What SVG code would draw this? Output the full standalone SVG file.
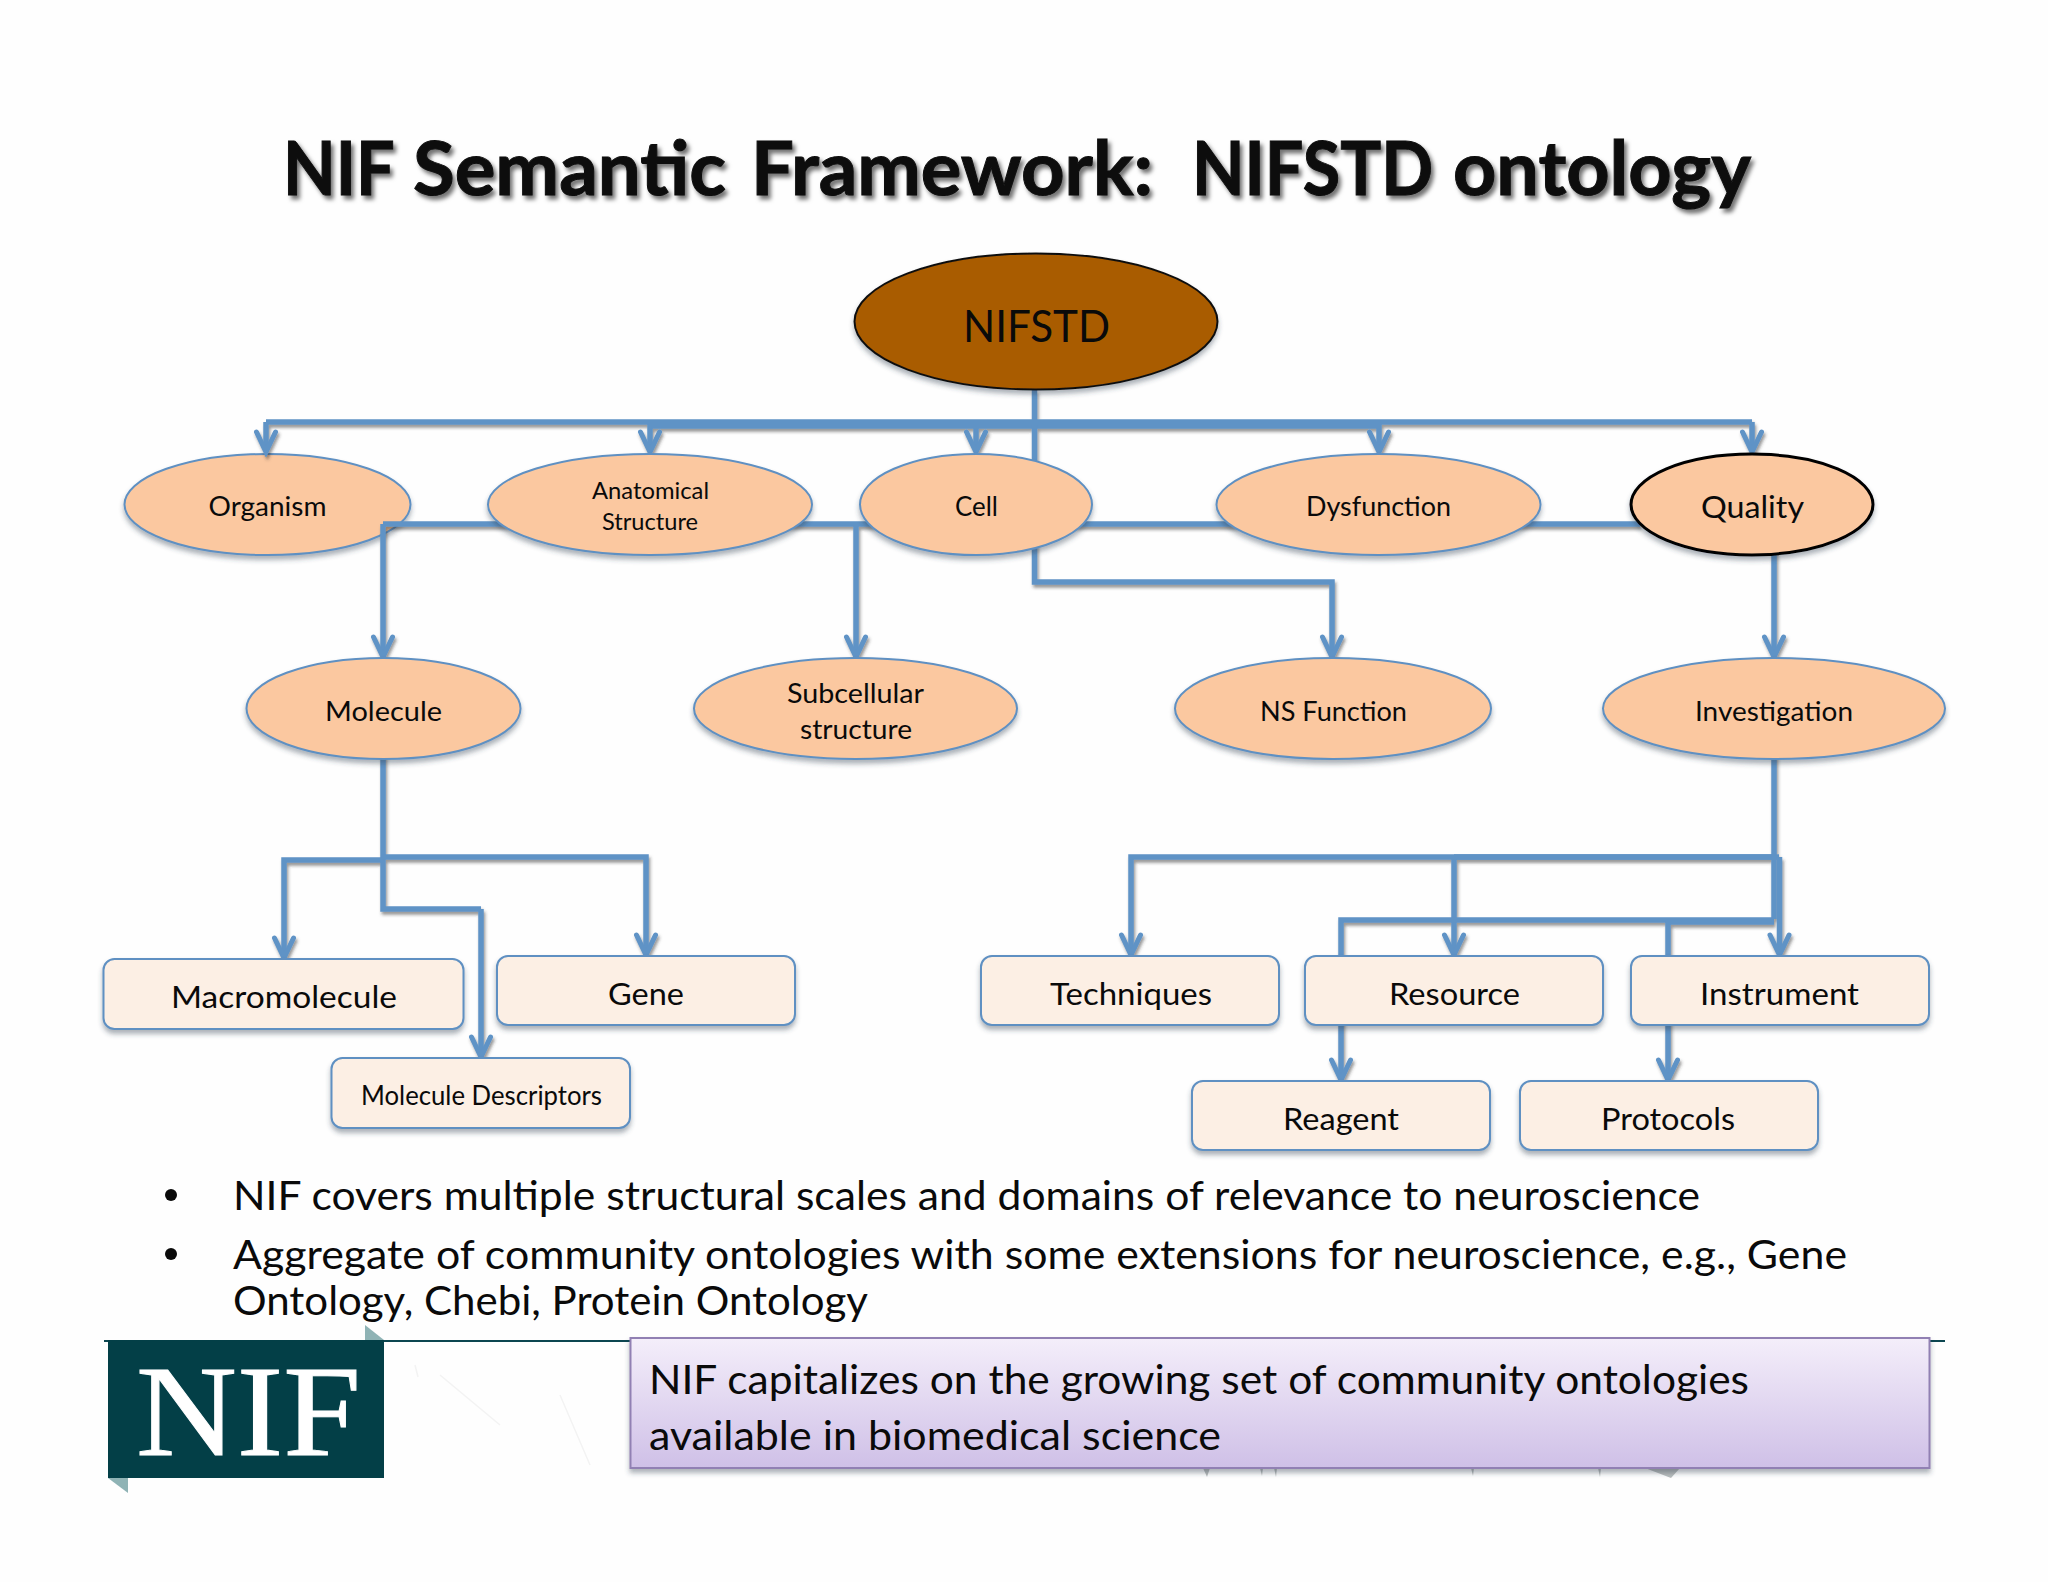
<svg xmlns="http://www.w3.org/2000/svg" width="2048" height="1582" viewBox="0 0 2048 1582">
<style>
text{font-family:Lato,"Liberation Sans",sans-serif;fill:#0a0a0a}
.e{fill:#fbc8a0;stroke:#5f90c2;stroke-width:2;filter:url(#sh)}
.b{fill:#fcefe4;stroke:#5f90c2;stroke-width:2;filter:url(#sh)}
.c{fill:none;stroke:#5f93c6;stroke-width:5.5;stroke-linejoin:miter}
.h{marker-end:url(#arrd)}
.f26{font-size:27px}.f23{font-size:24px}.f25{font-size:26px}.f30{font-size:31px}.f38{font-size:40px}
</style>
<defs>
<filter id="sh" x="-10%" y="-15%" width="120%" height="135%"><feDropShadow dx="0" dy="4" stdDeviation="2.5" flood-color="#33404f" flood-opacity="0.4"/></filter>
<filter id="ls" x="-5%" y="-5%" width="110%" height="110%"><feDropShadow dx="1.5" dy="3" stdDeviation="1.5" flood-color="#333" flood-opacity="0.5"/></filter>
<filter id="ts" x="-5%" y="-20%" width="110%" height="140%"><feDropShadow dx="3" dy="4" stdDeviation="2" flood-color="#000" flood-opacity="0.55"/></filter>
<marker id="arrd" markerUnits="userSpaceOnUse" markerWidth="32" markerHeight="32" refX="25" refY="16" orient="auto" viewBox="0 0 32 32">
<path d="M7 6.500 L27 16 L7 25.500" fill="none" stroke="#5f93c6" stroke-width="5" stroke-linecap="round" stroke-linejoin="miter"/>
</marker>
<linearGradient id="pg" x1="0" y1="0" x2="0" y2="1"><stop offset="0" stop-color="#f4eefa"/><stop offset="1" stop-color="#cfc0e7"/></linearGradient>
</defs>
<rect width="2048" height="1582" fill="#fefefe"/>
<text id="title" y="195" font-size="74" font-weight="700" stroke="#0a0a0a" stroke-width="1" filter="url(#ts)"><tspan x="283" textLength="110" lengthAdjust="spacingAndGlyphs">NIF</tspan> <tspan x="413" textLength="313" lengthAdjust="spacingAndGlyphs">Semantic</tspan> <tspan x="751" textLength="402" lengthAdjust="spacingAndGlyphs">Framework:</tspan>  <tspan x="1192" textLength="241" lengthAdjust="spacingAndGlyphs">NIFSTD</tspan> <tspan x="1453" textLength="298" lengthAdjust="spacingAndGlyphs">ontology</tspan></text>

<g id="n-organism"><ellipse class="e" cx="267.500" cy="504.500" rx="143" ry="50.500"/><text class="f26" x="208.500" y="516" textLength="118" lengthAdjust="spacingAndGlyphs">Organism</text></g>

<g id="connectors" filter="url(#ls)">
<path class="c" d="M650 426H1379"/>
<path class="c" d="M1034.500 390V470"/>
<path class="c" d="M266 422H1752"/>
<path class="c h" d="M266 422V450"/>
<path class="c h" d="M650 424V450"/>
<path class="c h" d="M976 426V450"/>
<path class="c h" d="M1379 424V450"/>
<path class="c h" d="M1752 422V450"/>
<path class="c" d="M1640 524H383"/>
<path class="c h" d="M383 524V655"/>
<path class="c h" d="M856 524V655"/>
<path class="c h" d="M1034.500 540V582H1332V655"/>
<path class="c h" d="M1774 550V655"/>
<path class="c" d="M383 755V909H481"/>
<path class="c h" d="M481 909V1055"/>
<path class="c h" d="M383 860H284V956"/>
<path class="c h" d="M383 857H646V953"/>
<path class="c" d="M1774 755V919"/>
<path class="c h" d="M1774 857H1131V953"/>
<path class="c" d="M1779 857H1454"/>
<path class="c h" d="M1454 857V953"/>
<path class="c h" d="M1779.500 857V953"/>
<path class="c" d="M1774 920H1341V1000"/>
<path class="c h" d="M1341 1000V1078"/>
<path class="c" d="M1774 922H1668V1000"/>
<path class="c h" d="M1668 1000V1078"/>
</g>

<g id="n-nifstd"><ellipse cx="1036" cy="321.500" rx="181.500" ry="68" fill="#a95b00" stroke="#111" stroke-width="2" filter="url(#sh)"/><text x="963" y="342" font-size="45" textLength="147" lengthAdjust="spacingAndGlyphs">NIFSTD</text></g>
<g id="n-anatomical"><ellipse class="e" cx="650" cy="504.500" rx="162" ry="50.500"/><text class="f23" x="592" y="499" textLength="117" lengthAdjust="spacingAndGlyphs">Anatomical</text><text class="f23" x="602" y="530" textLength="96" lengthAdjust="spacingAndGlyphs">Structure</text></g>
<g id="n-cell"><ellipse class="e" cx="976" cy="504.500" rx="116" ry="50.500"/><text class="f26" x="955" y="516" textLength="43" lengthAdjust="spacingAndGlyphs">Cell</text></g>
<g id="n-dysfunction"><ellipse class="e" cx="1378.500" cy="504.500" rx="162" ry="50.500"/><text class="f26" x="1306" y="516" textLength="145" lengthAdjust="spacingAndGlyphs">Dysfunction</text></g>
<g id="n-quality"><ellipse cx="1752" cy="504.500" rx="121" ry="50.500" fill="#fbc8a0" stroke="#000" stroke-width="3" filter="url(#sh)"/><text class="f30" x="1701" y="518" textLength="103" lengthAdjust="spacingAndGlyphs">Quality</text></g>
<g id="n-molecule"><ellipse class="e" cx="383.500" cy="708.500" rx="137" ry="50.500"/><text class="f26" x="325" y="721" textLength="117" lengthAdjust="spacingAndGlyphs">Molecule</text></g>
<g id="n-subcellular"><ellipse class="e" cx="855.500" cy="708.500" rx="161.500" ry="50.500"/><text class="f26" x="787" y="703" textLength="137" lengthAdjust="spacingAndGlyphs">Subcellular</text><text class="f26" x="800" y="739" textLength="112" lengthAdjust="spacingAndGlyphs">structure</text></g>
<g id="n-nsfunction"><ellipse class="e" cx="1333" cy="708.500" rx="158" ry="50.500"/><text class="f26" x="1260" y="721" textLength="147" lengthAdjust="spacingAndGlyphs">NS Function</text></g>
<g id="n-investigation"><ellipse class="e" cx="1774" cy="708.500" rx="171" ry="50.500"/><text class="f26" x="1695" y="721" textLength="158" lengthAdjust="spacingAndGlyphs">Investigation</text></g>

<g id="n-macromolecule"><rect class="b" x="103.500" y="959" width="360" height="70" rx="11"/><text class="f30" x="171" y="1008" textLength="226" lengthAdjust="spacingAndGlyphs">Macromolecule</text></g>
<g id="n-gene"><rect class="b" x="497" y="956" width="298" height="69" rx="11"/><text class="f30" x="608" y="1005" textLength="76" lengthAdjust="spacingAndGlyphs">Gene</text></g>
<g id="n-descriptors"><rect class="b" x="331.500" y="1058" width="298.500" height="70" rx="11"/><text class="f25" x="361" y="1105" textLength="241" lengthAdjust="spacingAndGlyphs">Molecule Descriptors</text></g>
<g id="n-techniques"><rect class="b" x="981" y="956" width="298" height="69" rx="11"/><text class="f30" x="1050" y="1005" textLength="162" lengthAdjust="spacingAndGlyphs">Techniques</text></g>
<g id="n-resource"><rect class="b" x="1305" y="956" width="298" height="69" rx="11"/><text class="f30" x="1389" y="1005" textLength="131" lengthAdjust="spacingAndGlyphs">Resource</text></g>
<g id="n-instrument"><rect class="b" x="1631" y="956" width="298" height="69" rx="11"/><text class="f30" x="1700" y="1005" textLength="159" lengthAdjust="spacingAndGlyphs">Instrument</text></g>
<g id="n-reagent"><rect class="b" x="1192" y="1081" width="298" height="69" rx="11"/><text class="f30" x="1283" y="1130" textLength="116" lengthAdjust="spacingAndGlyphs">Reagent</text></g>
<g id="n-protocols"><rect class="b" x="1520" y="1081" width="298" height="69" rx="11"/><text class="f30" x="1601" y="1130" textLength="134" lengthAdjust="spacingAndGlyphs">Protocols</text></g>

<circle cx="171" cy="1195" r="6" fill="#0a0a0a"/>
<text class="f38" x="233" y="1210" textLength="1467" lengthAdjust="spacingAndGlyphs">NIF covers multiple structural scales and domains of relevance to neuroscience</text>
<circle cx="171" cy="1254" r="6" fill="#0a0a0a"/>
<text class="f38" x="233" y="1269" textLength="1614" lengthAdjust="spacingAndGlyphs">Aggregate of community ontologies with some extensions for neuroscience, e.g., Gene</text>
<text class="f38" x="233" y="1315" textLength="635" lengthAdjust="spacingAndGlyphs">Ontology, Chebi, Protein Ontology</text>

<path d="M104 1341H1945" stroke="#0c4650" stroke-width="2" fill="none"/>
<g fill="#b9bdbd"><path d="M1645 1468H1680L1671 1478Z"/><path d="M1203 1468h7l-3 9z"/><path d="M1260 1468h3l-1 8z"/><path d="M1274 1468h3l-1 9z"/><path d="M1471 1468h3l-1 8z"/><path d="M1598 1468h3l-1 9z"/></g>
<path d="M415 1365l3 12M440 1375l60 50M560 1395l30 70" stroke="#f3f3f3" stroke-width="1.500" fill="none"/>
<g id="logo">
<path d="M365 1325L384 1340H365Z" fill="#8fb3b5"/>
<path d="M108 1478H128V1493Z" fill="#8fb3b5"/>
<rect x="108" y="1340" width="276" height="138" fill="#033f47"/>
<text x="136" y="1455" font-size="130" stroke="#fff" stroke-width="1" textLength="225" lengthAdjust="spacingAndGlyphs" style="font-family:'Liberation Serif',serif;fill:#fff">NIF</text>
</g>
<g id="callout">
<rect x="630.500" y="1338" width="1299" height="130" fill="url(#pg)" stroke="#9180b3" stroke-width="2" filter="url(#sh)"/>
<text class="f38" x="649" y="1394" textLength="1100" lengthAdjust="spacingAndGlyphs">NIF capitalizes on the growing set of community ontologies</text>
<text class="f38" x="649" y="1450" textLength="572" lengthAdjust="spacingAndGlyphs">available in biomedical science</text>
</g>
</svg>
